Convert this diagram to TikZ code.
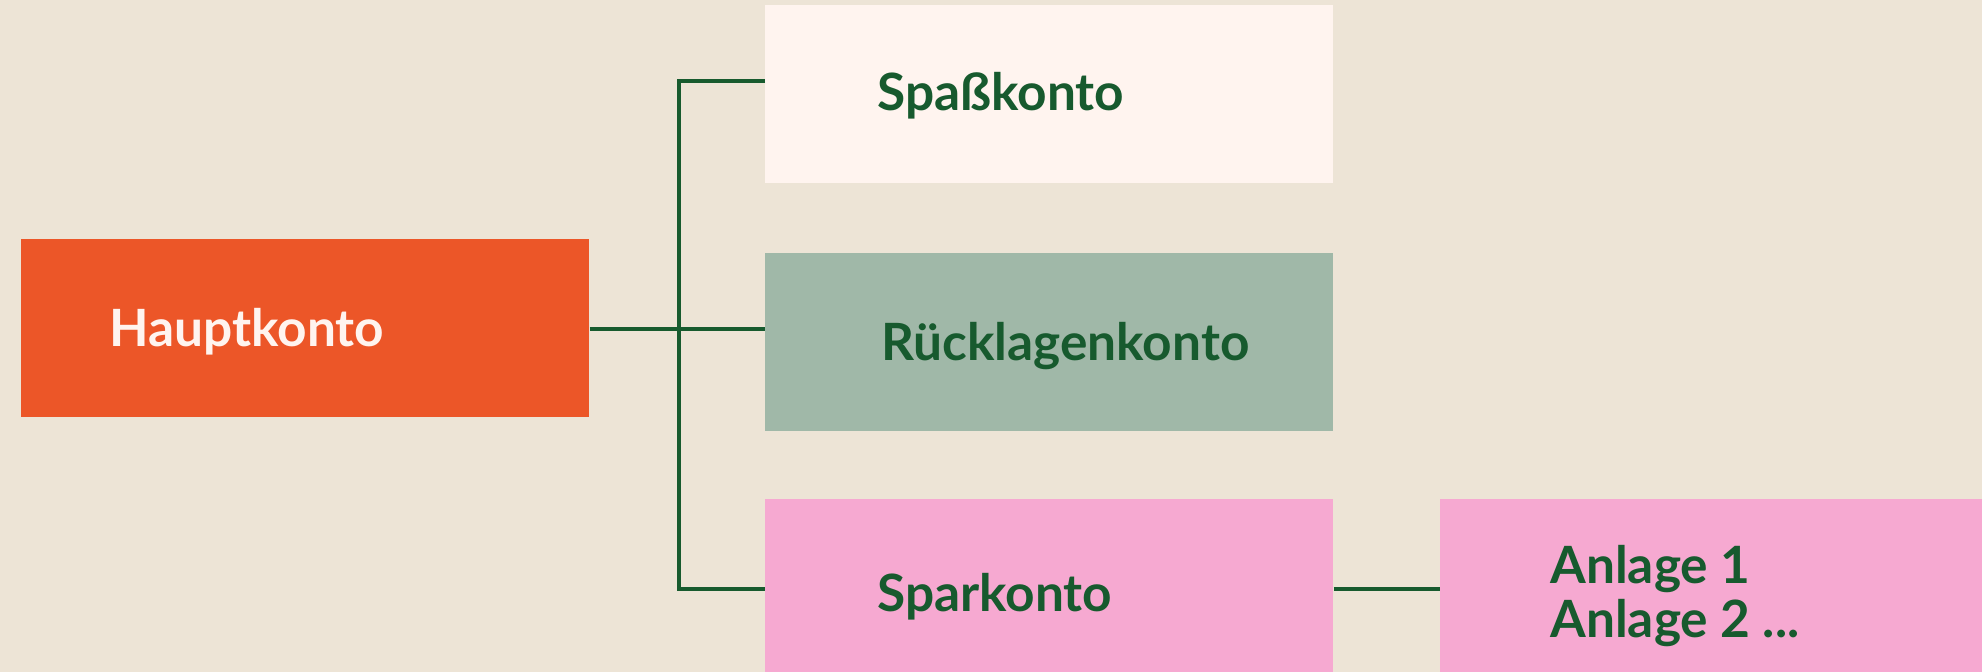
\documentclass[tikz,border=0pt]{standalone}
\usepackage{fontspec}
\setmainfont{Lato}
\definecolor{bg}{HTML}{EDE4D6}
\definecolor{orangebox}{HTML}{EC5628}
\definecolor{palebox}{HTML}{FFF4EF}
\definecolor{sagebox}{HTML}{A0B8A8}
\definecolor{pinkbox}{HTML}{F6A9D1}
\definecolor{darkgreen}{HTML}{175A2E}
\tikzset{
  box/.style={draw=none, inner sep=0pt, anchor=north west, minimum width=284pt, minimum height=89pt},
  lbl/.style={anchor=west, inner sep=0pt, font=\fontsize{25.7}{27}\selectfont\bfseries, text=darkgreen},
  conn/.style={draw=darkgreen, line width=1.8pt},
}
\begin{document}
\begin{tikzpicture}[x=0.5pt, y=-0.5pt]
\useasboundingbox (0,0) rectangle (1982,672);
\fill[bg] (0,0) rectangle (1982,672);
\clip (0,0) rectangle (1982,672);
\node[box, fill=orangebox] (haupt) at (21,239) {};
\node[box, fill=palebox] (spass) at (765,5) {};
\node[box, fill=sagebox] (rueck) at (765,253) {};
\node[box, fill=pinkbox, minimum height=110pt] (spar) at (765,499) {};
\node[box, fill=pinkbox, minimum width=280pt, minimum height=110pt] (anlage) at (1440,499) {};
\node[lbl, text=palebox] (hauptT) at (109,332) {Hauptkonto};
\node[lbl] (spassT) at (877,96) {Spaßkonto};
\node[lbl] (rueckT) at (881,346) {Rücklagenkonto};
\node[lbl] (sparT) at (877,597) {Sparkonto};
\node[lbl, align=left] (anlageT) at (1550,596) {Anlage 1\\Anlage 2 ...};
\coordinate (jtop) at (679,81);
\coordinate (jbot) at (679,589);
\draw[conn] (haupt.east |- 0,329) -- (rueck.west |- 0,329);
\draw[conn] (spass.west |- jtop) -- (jtop) -- (jbot) -- (spar.west |- jbot);
\draw[conn] (spar.east |- jbot) -- (anlage.west |- jbot);
\end{tikzpicture}
\end{document}
